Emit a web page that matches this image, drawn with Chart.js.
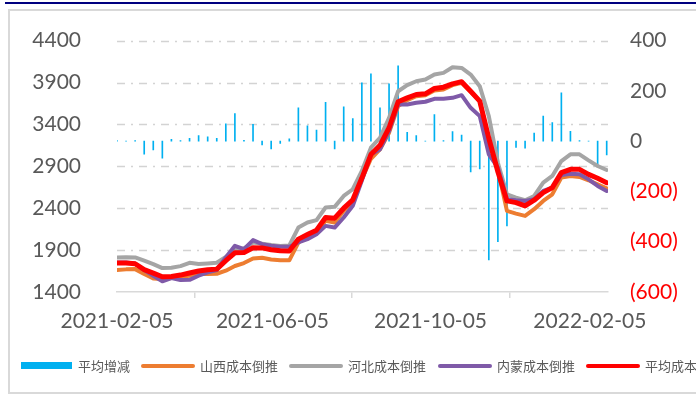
<!DOCTYPE html>
<html>
<head>
<meta charset="utf-8">
<script src="https://cdn.jsdelivr.net/npm/chart.js@4.4.0/dist/chart.umd.min.js"></script>
<style>
body { margin:0; width:696px; height:403px; overflow:hidden; background:#fff; position:relative; }
.topline { position:absolute; left:5px; top:2px; width:691px; height:2px; background:#000080; }
.frame { position:absolute; left:8px; top:9px; width:720px; height:381px; border:2px solid #d9d9d9; }
canvas { position:absolute; left:0; top:0; }
.lg { position:absolute; top:0; left:0; width:696px; height:403px; overflow:hidden; pointer-events:none; }
.lg .mk { position:absolute; }
.lg .tx { position:absolute; font-family:"Noto Sans CJK SC"; font-size:13px; color:#595959; white-space:nowrap; line-height:16px; }
</style>
</head>
<body>
<div class="topline"></div>
<div class="frame"></div>
<canvas id="chart" width="696" height="403"></canvas>
<div class="lg" id="legend"></div>
<script>
// weekly dates (Fridays)
const weeks = ["2021-02-05","2021-02-12","2021-02-19","2021-02-26","2021-03-05","2021-03-12","2021-03-19","2021-03-26",
  "2021-04-02","2021-04-09","2021-04-16","2021-04-23","2021-04-30","2021-05-07","2021-05-14","2021-05-21","2021-05-28",
  "2021-06-04","2021-06-11","2021-06-18","2021-06-25","2021-07-02","2021-07-09","2021-07-16","2021-07-23","2021-07-30",
  "2021-08-06","2021-08-13","2021-08-20","2021-08-27","2021-09-03","2021-09-10","2021-09-17","2021-09-24",
  "2021-10-01","2021-10-08","2021-10-15","2021-10-22","2021-10-29","2021-11-05","2021-11-12","2021-11-19","2021-11-26",
  "2021-12-03","2021-12-10","2021-12-17","2021-12-24","2021-12-31","2022-01-07","2022-01-14","2022-01-21","2022-01-28",
  "2022-02-04","2022-02-11","2022-02-18"]

const avgChange = [2,0,2,-52,-35,-68,7,2,11,22,17,11,69,110,3,67,-15,-31,-9,9,
  133,61,44,154,-31,137,90,232,268,133,228,300,35,22,0,106,2,38,24,-122,
  -110,-472,-400,-337,-25,-28,32,100,74,192,39,2,0,-95,-55]

const shanxi = [1662,1670,1673,1614,1562,1554,1566,1582,1594,1614,
  1614,1618,1654,1710,1745,1800,1808,1788,1778,1778,
  1990,2070,2110,2249,2229,2368,2467,2745,2990,3102,
  3301,3618,3690,3737,3749,3804,3816,3868,3896,3788,
  3677,3220,2860,2368,2336,2308,2388,2487,2566,2765,
  2785,2773,2733,2685,2638]

const hebei = [1812,1816,1812,1773,1733,1685,1689,1709,1749,1733,
  1741,1749,1820,1900,1920,1990,1975,1960,1950,1955,
  2169,2229,2257,2408,2416,2546,2626,2844,3122,3241,
  3479,3796,3868,3915,3935,3995,4015,4082,4074,3995,
  3856,3499,2943,2566,2527,2495,2546,2705,2785,2963,
  3043,3043,2971,2904,2856]

const neimeng = [1753,1753,1740,1662,1594,1527,1566,1542,1545,1594,
  1634,1662,1812,1951,1912,2019,1971,1951,1939,1939,
  1991,2031,2090,2189,2169,2289,2428,2730,3043,3102,
  3320,3640,3638,3658,3670,3705,3705,3717,3749,3598,
  3499,3043,2884,2507,2495,2487,2507,2606,2646,2797,
  2812,2804,2745,2666,2606]

const average = [1745,1745,1737,1666,1626,1582,1586,1602,1626,1650,
  1666,1673,1773,1868,1870,1928,1926,1904,1892,1890,
  2031,2085,2138,2289,2281,2400,2500,2760,3040,3150,
  3360,3670,3717,3757,3765,3828,3844,3884,3910,3796,
  3677,3235,2835,2487,2467,2427,2495,2586,2646,2824,
  2864,2864,2804,2757,2705]

const xTickLabels = ["2021-02-05","2021-06-05","2021-10-05","2022-02-05"]

const seriesNames = ["平均增减","山西成本倒推","河北成本倒推","内蒙成本倒推","平均成本倒推"]
const seriesColors = ["#00B0F0","#ED7D31","#A5A5A5","#7F5AA8","#FF0000"]

function dayOf(s) {
    const p = s.split("-")
    return (Date.UTC(+p[0], +p[1] - 1, +p[2]) - Date.UTC(2021, 1, 5)) / 86400000
}
function pts(arr) {
    return weeks.map((d, i) => ({ x: dayOf(d), y: arr[i] }))
}

const tickFont = { family: "Lato", size: 21 }
const textColor = "#595959"

function lineSet(idx, arr, width, order) {
    return {
        type: "line", label: seriesNames[idx], data: pts(arr), yAxisID: "y",
        borderColor: seriesColors[idx], backgroundColor: seriesColors[idx],
        borderWidth: width, pointRadius: 0, tension: 0,
        borderJoinStyle: "round", borderCapStyle: "round", order: order
    }
}

// dash-dot gridlines of the left axis, drawn behind the data
const dashGrid = {
    id: "dashGrid",
    beforeDatasetsDraw(chart) {
        const ctx = chart.ctx
        const y = chart.scales.y
        const area = chart.chartArea
        ctx.save()
        ctx.strokeStyle = "#d3d3d3"
        ctx.lineWidth = 1.5
        ctx.setLineDash([8, 6, 2, 6])
        y.ticks.forEach(t => {
            if (t.value === y.min) return
            const py = Math.round(y.getPixelForValue(t.value)) + 0.5
            ctx.beginPath()
            ctx.moveTo(area.left, py)
            ctx.lineTo(area.right, py)
            ctx.stroke()
        })
        ctx.restore()
    }
}

new Chart(document.getElementById("chart"), {
    type: "bar",
    data: {
        datasets: [
            {
                type: "bar", label: seriesNames[0], data: pts(avgChange), yAxisID: "y1",
                backgroundColor: seriesColors[0], barThickness: 1, order: 5
            },
            lineSet(1, shanxi, 4, 4),
            lineSet(2, hebei, 4, 3),
            lineSet(3, neimeng, 4, 2),
            lineSet(4, average, 5, 1)
        ]
    },
    options: {
        responsive: false,
        devicePixelRatio: 1,
        animation: false,
        layout: { padding: { top: 39, left: 0, right: 0, bottom: 0 } },
        plugins: { legend: { display: false }, tooltip: { enabled: false } },
        scales: {
            x: {
                type: "linear", min: 0, max: 379, offset: false,
                afterBuildTicks: s => { s.ticks = xTickLabels.map(t => ({ value: dayOf(t) })) },
                afterFit: s => { s.height = 111 },
                grid: { drawOnChartArea: false, drawTicks: true, tickLength: 6, color: "#d9d9d9", lineWidth: 1.5 },
                border: { display: true, color: "#d9d9d9", width: 1.5 },
                ticks: {
                    autoSkip: false, maxRotation: 0, padding: 11,
                    font: tickFont, color: textColor,
                    callback: (v, i) => xTickLabels[i]
                }
            },
            y: {
                position: "left", min: 1400, max: 4400,
                afterFit: s => { s.width = 117 },
                grid: { display: false },
                border: { display: false },
                ticks: { stepSize: 500, padding: 28, font: tickFont, color: textColor, callback: v => String(v) }
            },
            y1: {
                position: "right", min: -600, max: 400,
                afterFit: s => { s.width = 88 },
                grid: { display: false, drawTicks: false },
                border: { display: false },
                ticks: {
                    stepSize: 200, padding: 22, font: tickFont,
                    color: c => c.tick && c.tick.value < 0 ? "#FF0000" : textColor,
                    callback: v => v < 0 ? "(" + (-v) + ")" : String(v)
                }
            }
        }
    },
    plugins: [dashGrid]
})

// legend, laid out like the original and cut at the right edge
const legendX = [21, 141, 289, 438, 586]
const lg = document.getElementById("legend")
seriesNames.forEach((name, i) => {
    const mk = document.createElement("div")
    mk.className = "mk"
    mk.style.left = legendX[i] + "px"
    mk.style.background = seriesColors[i]
    if (i === 0) {
        mk.style.width = "51px"; mk.style.height = "7px"; mk.style.top = "362px"
    } else {
        mk.style.width = "54px"; mk.style.height = "4px"; mk.style.top = "364px"; mk.style.borderRadius = "2px"
    }
    lg.appendChild(mk)
    const tx = document.createElement("div")
    tx.className = "tx"
    tx.style.left = (legendX[i] + (i === 0 ? 57 : 59)) + "px"
    tx.style.top = "358px"
    tx.textContent = name
    lg.appendChild(tx)
})
</script>
</body>
</html>
